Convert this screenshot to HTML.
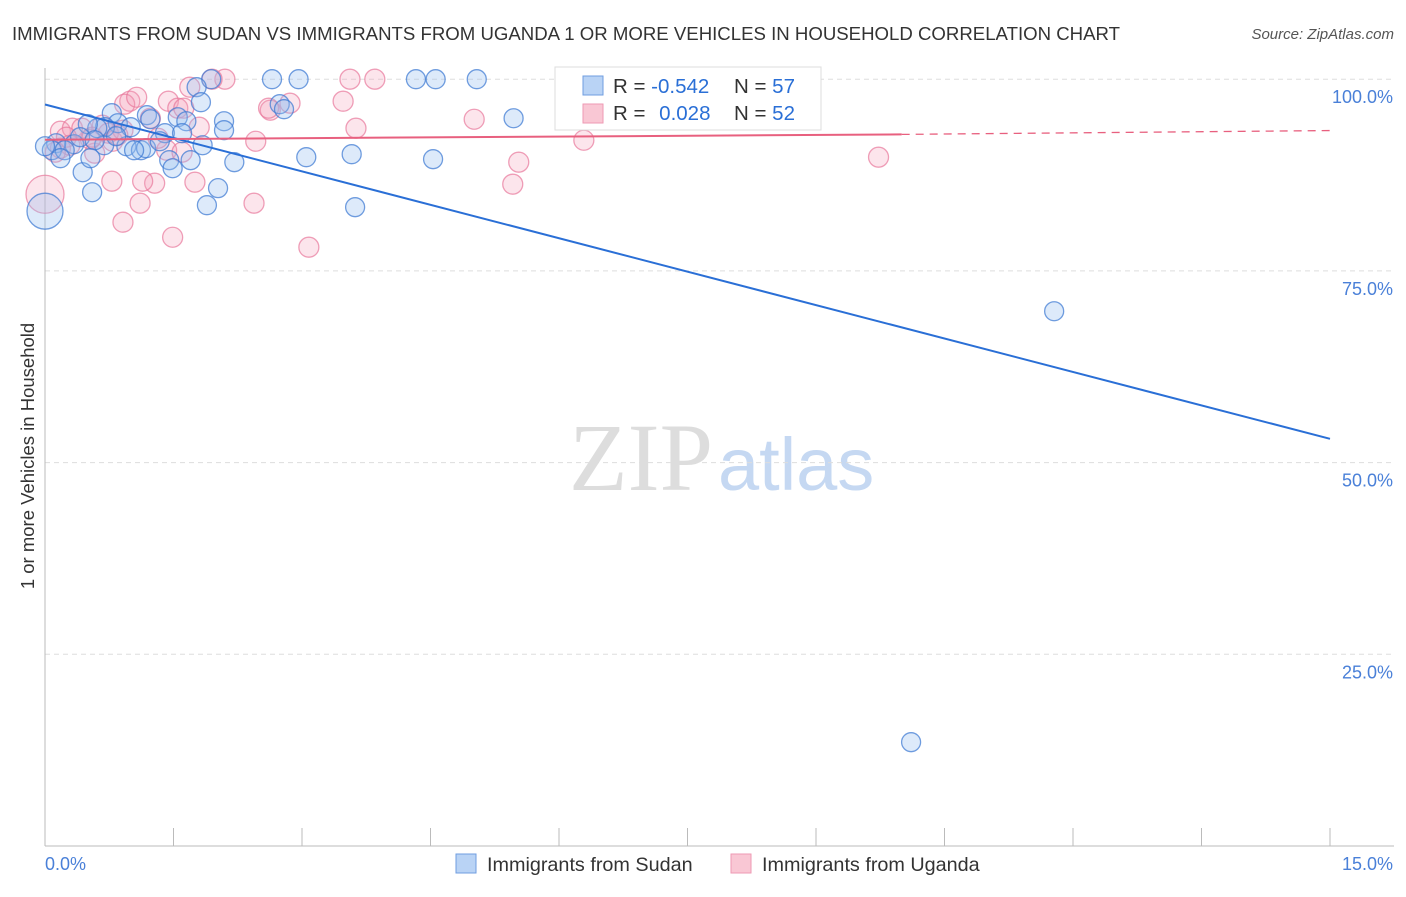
<!DOCTYPE html>
<html><head><meta charset="utf-8"><style>
body{margin:0;background:#fff;font-family:"Liberation Sans",sans-serif}
</style></head><body>
<svg id="c" width="1406" height="892" xmlns="http://www.w3.org/2000/svg">
<text x="12" y="40" font-size="18.5" fill="#333" textLength="1108" lengthAdjust="spacingAndGlyphs">IMMIGRANTS FROM SUDAN VS IMMIGRANTS FROM UGANDA 1 OR MORE VEHICLES IN HOUSEHOLD CORRELATION CHART</text>
<text x="1394" y="39" font-size="15" fill="#555" font-style="italic" text-anchor="end">Source: ZipAtlas.com</text>
<text x="713" y="490" font-size="96" fill="#ddd" text-anchor="end" font-family="Liberation Serif,serif">ZIP</text>
<text x="718" y="490" font-size="74" fill="#c5d8f2">atlas</text>
<g id="grid"></g><g id="axes"></g><g id="pts"></g><g id="lines"></g>
<text transform="translate(34,456) rotate(-90)" font-size="18.5" fill="#333" text-anchor="middle">1 or more Vehicles in Household</text>
<g>
<rect x="555" y="67" width="266" height="63" fill="#fff" stroke="#ddd"/>
<rect x="583" y="76" width="20" height="19" fill="#b9d3f5" stroke="#6f9ee0"/>
<rect x="583" y="104" width="20" height="19" fill="#f9c7d4" stroke="#ee9ab3"/>
<text x="613" y="93" font-size="20.5" fill="#333">R = <tspan fill="#2a6fd6">-0.542</tspan></text>
<text x="734" y="93" font-size="20.5" fill="#333">N = <tspan fill="#2a6fd6">57</tspan></text>
<text x="613" y="120" font-size="20.5" fill="#333">R = <tspan fill="#2a6fd6" dx="8">0.028</tspan></text>
<text x="734" y="120" font-size="20.5" fill="#333">N = <tspan fill="#2a6fd6">52</tspan></text>
</g>
<g>
<rect x="456" y="854" width="20" height="19" fill="#b9d3f5" stroke="#6f9ee0"/>
<text x="487" y="871" font-size="19.8" fill="#333">Immigrants from Sudan</text>
<rect x="731" y="854" width="20" height="19" fill="#f9c7d4" stroke="#ee9ab3"/>
<text x="762" y="871" font-size="19.8" fill="#333">Immigrants from Uganda</text>
</g>
</svg>
<script>
const blueX=[2.65,2.96,4.33,4.56,5.04,1.94,1.77,1.82,2.74,2.79,5.47,0.78,1.19,1.55,1.65,0.85,2.09,2.09,0.70,0.61,1.00,0.50,1.23,1.40,1.60,0.34,0.13,0.08,0.23,0.18,0.69,0.95,1.12,1.18,1.84,3.05,3.58,4.53,1.70,1.45,1.49,2.21,0.44,0.55,2.02,1.89,3.62,0,11.78,10.11,0.83,0.41,1.34,1.04,0.58,0,0.53];
const blueY=[100,100,100,100,100,100,98.96,97.0,96.74,96.09,94.91,95.57,95.31,95.04,94.52,94.26,94.52,93.35,93.74,93.61,93.74,94.13,94.78,92.96,92.96,91.52,91.65,90.74,90.74,89.70,91.39,91.26,90.74,91.0,91.39,89.83,90.22,89.57,89.44,89.44,88.39,89.18,87.87,85.26,85.79,83.57,83.31,82.79,69.74,13.54,92.57,92.44,91.91,90.74,92.04,91.26,89.70];
const pinkX=[0,0.58,1.28,1.11,0.91,1.49,3.08,2.44,1.75,0.78,1.14,1.42,1.60,2.46,3.63,3.48,3.56,3.85,2.10,1.95,1.69,0.99,0.93,1.07,1.44,1.55,1.62,2.63,2.86,2.61,5.01,6.29,5.53,5.46,9.73,0.18,0.32,0.43,0.67,0.74,0.79,0.53,0.18,0.25,1.80,1.32,1.23,0.91,0.55,0.85,0.29,0.12];
const pinkY=[85.0,90.35,86.44,83.83,81.35,79.39,78.09,83.83,86.57,86.70,86.70,90.74,90.48,91.91,93.61,97.13,100,100,100,100,98.96,97.13,96.74,97.65,97.13,96.22,96.22,95.96,96.87,96.22,94.78,92.04,89.18,86.31,89.83,93.22,93.61,93.61,94.0,92.96,91.91,92.18,91.0,92.44,93.74,92.3,94.91,93.35,92.44,92.7,91.39,90.48];
const blueLineY=[96.7,53.1];const pinkLineY=[92.1,92.8,93.3];
const ticksY=[100,75,50,25];const ticksX=[0,1.5,3,4.5,6,7.5,9,10.5,12,13.5,15];
const NS="http://www.w3.org/2000/svg";
const sx=v=>45+v*(1285/15), sy=v=>846-v*7.668;
function mk(t,a,p){const e=document.createElementNS(NS,t);for(const k in a)e.setAttribute(k,a[k]);document.getElementById(p).appendChild(e);return e;}
ticksY.forEach(t=>{const g=mk('line',{x1:45,x2:1394,y1:sy(t),y2:sy(t),stroke:'#ddd','stroke-dasharray':'5,4'},'grid');


const l=mk('text',{x:1393,y:sy(t)+24,'font-size':18,fill:'#4a80d8','text-anchor':'end'},'axes');l.textContent=t.toFixed(1)+'%';

});
mk('line',{x1:45,x2:45,y1:68,y2:846,stroke:'#bbb'},'axes');
mk('line',{x1:45,x2:1394,y1:846,y2:846,stroke:'#bbb'},'axes');
ticksX.forEach(t=>{const k=mk('line',{x1:sx(t),x2:sx(t),y1:828,y2:846,stroke:'#bbb'},'axes');

});
[[0,'0.0%',45,'start'],[15,'15.0%',1393,'end']].forEach(a=>{const l=mk('text',{x:a[2],y:870,'font-size':18,fill:'#4a80d8','text-anchor':a[3]},'axes');l.textContent=a[1];

});
pinkX.forEach((x,i)=>{const c=mk('circle',{cx:sx(x),cy:sy(pinkY[i]),r:i==0?19:10,fill:'rgba(244,160,185,0.28)',stroke:'rgba(232,120,155,0.7)','stroke-width':1.3},'pts');

});
blueX.forEach((x,i)=>{const c=mk('circle',{cx:sx(x),cy:sy(blueY[i]),r:i==47?18:9.5,fill:'rgba(150,190,240,0.32)',stroke:'rgba(60,120,210,0.72)','stroke-width':1.3},'pts');

});
let b=mk('line',{x1:sx(0),y1:sy(blueLineY[0]),x2:sx(15),y2:sy(blueLineY[1]),stroke:'#2a6fd6','stroke-width':2},'lines');


let p=mk('line',{x1:sx(0),y1:sy(pinkLineY[0]),x2:sx(10),y2:sy(pinkLineY[1]),stroke:'#e8607f','stroke-width':2},'lines');


let d=mk('line',{x1:sx(10),y1:sy(pinkLineY[1]),x2:sx(15),y2:sy(pinkLineY[2]),stroke:'#e8607f','stroke-width':1.3,'stroke-dasharray':'8,6'},'lines');


</script>
</body></html>
